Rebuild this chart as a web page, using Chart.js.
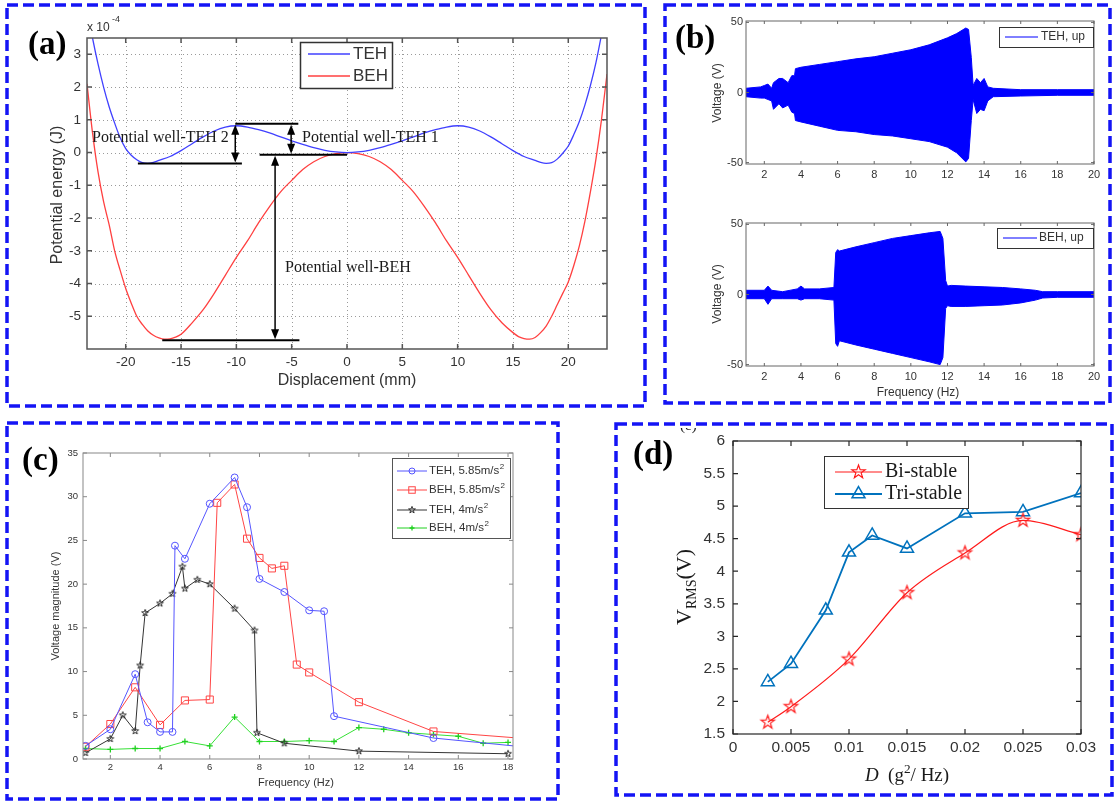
<!DOCTYPE html>
<html>
<head>
<meta charset="utf-8">
<script src="https://cdn.jsdelivr.net/npm/chart.js@4.4.1/dist/chart.umd.min.js"></script>
<style>
body { margin: 0; background: #fff; }
#page { position: relative; width: 1115px; height: 802px; overflow: hidden; background: #fff; }
canvas { position: absolute; left: 0; top: 0; }
.t { position: absolute; white-space: nowrap; line-height: 1; color: #333; font-family: "Liberation Sans", Arial, sans-serif; }
.serif { font-family: "Liberation Serif", "Times New Roman", serif; color: #1a1a1a; }
.lbl { font-family: "Liberation Serif", serif; font-weight: bold; font-size: 33px; color: #000; }
.rot { transform: translate(-50%, -50%) rotate(-90deg); }
.ctr { transform: translate(-50%, -50%); }
.vc { transform: translate(0, -50%); }
sup { font-size: 70%; }
</style>
</head>
<body>
<div id="page">
<canvas id="cA" width="1115" height="802"></canvas>
<canvas id="cB1" width="1115" height="802"></canvas>
<canvas id="cB2" width="1115" height="802"></canvas>
<canvas id="cC" width="1115" height="802"></canvas>
<canvas id="cD" width="1115" height="802"></canvas>

<svg width="1115" height="802" style="position:absolute;left:0;top:0">
  <g fill="none" stroke="#1414f5" stroke-width="3.5" stroke-dasharray="11 5">
    <rect x="7" y="5" width="638" height="401"/>
    <rect x="665" y="5" width="445" height="398"/>
    <rect x="7" y="423" width="551" height="376"/>
    <rect x="616" y="424" width="496" height="371"/>
  </g>
</svg>

<!-- panel labels -->
<div class="t lbl" style="left:28px;top:27px">(a)</div>
<div class="t lbl" style="left:675px;top:21px">(b)</div>
<div class="t lbl" style="left:22px;top:443px">(c)</div>
<div class="t lbl" style="left:633px;top:437px">(d)</div>

<!-- (a) texts -->
<div class="t" style="left:87px;top:21px;font-size:12px">x 10</div>
<div class="t" style="left:112px;top:15px;font-size:9px">-4</div>
<div class="t ctr" style="left:347px;top:380px;font-size:16px">Displacement (mm)</div>
<div class="t rot" style="left:57px;top:195px;font-size:16px">Potential energy (J)</div>
<div class="t serif vc" style="left:92px;top:137px;font-size:16px">Potential well-TEH 2</div>
<div class="t serif vc" style="left:302px;top:137px;font-size:16px">Potential well-TEH 1</div>
<div class="t serif vc" style="left:285px;top:267px;font-size:16px">Potential well-BEH</div>

<!-- (b) texts -->
<div class="t rot" style="left:717px;top:93px;font-size:12px">Voltage (V)</div>
<div class="t rot" style="left:717px;top:294px;font-size:12px">Voltage (V)</div>
<div class="t ctr" style="left:918px;top:392px;font-size:12px">Frequency (Hz)</div>

<!-- (c) texts -->
<div class="t rot" style="left:55px;top:606px;font-size:11px">Voltage magnitude (V)</div>
<div class="t ctr" style="left:296px;top:782px;font-size:11px">Frequency (Hz)</div>

<!-- (d) texts -->
<div style="position:absolute;left:680px;top:428px;width:16px;height:8px;overflow:hidden">
  <div class="t serif" style="left:0;top:-10px;font-size:15px">(e)</div>
</div>
<div class="t serif rot" style="left:684px;top:587px;font-size:22px">V<span style="font-size:14px;position:relative;top:5px">RMS</span>(V)</div>
<div class="t serif ctr" style="left:907px;top:773px;font-size:19px"><i>D</i>&nbsp; (g<sup>2</sup>/ Hz)</div>
</div>

<script>
// ---------- (a) potential energy (x 10^-4 J) vs displacement (mm)
const aTehX = [-23.5, -23, -22.5, -22, -21.5, -21, -20.5, -20, -19.5, -19, -18.5, -18, -17.5, -17, -16, -15, -14, -13, -12, -11, -10, -9, -8, -7, -6, -5, -4, -3, -2, -1, 0,
               1, 2, 3, 4, 5, 6, 7, 8, 9, 10, 11, 12, 13, 14, 15, 16, 17, 17.5, 18, 18.5, 19, 19.5, 20, 20.5, 21, 21.5, 22, 22.5, 23, 23.5];
const aTeh = [4.4, 3.5, 2.7, 2.0, 1.4, 0.9, 0.45, 0.12, -0.08, -0.22, -0.31, -0.33, -0.3, -0.24, -0.12, 0.06, 0.27, 0.48, 0.66, 0.78, 0.82, 0.78, 0.7, 0.6, 0.48, 0.36, 0.25, 0.15, 0.07, 0.02, 0,
              0.02, 0.07, 0.15, 0.25, 0.36, 0.48, 0.6, 0.7, 0.78, 0.82, 0.78, 0.66, 0.48, 0.27, 0.06, -0.12, -0.24, -0.3, -0.33, -0.31, -0.2, -0.02, 0.2, 0.55, 0.95, 1.45, 2.05, 2.75, 3.6, 4.5];
const aBehX = [-23.5, -23, -22.5, -22, -21.5, -21, -20.5, -20, -19.5, -19, -18.5, -18, -17.5, -17, -16.5, -16, -15.5, -15, -14, -13, -12, -11, -10, -9, -8, -7, -6, -5, -4, -3, -2, -1, 0,
               1, 2, 3, 4, 5, 6, 7, 8, 9, 10, 11, 12, 13, 14, 15, 15.5, 16, 16.5, 17, 17.5, 18, 18.5, 19, 19.5, 20, 20.5, 21, 21.5, 22, 22.5, 23, 23.5];
const aBeh = [2.1, 0.6, -0.6, -1.5, -2.2, -3.0, -3.6, -4.15, -4.6, -5.0, -5.25, -5.45, -5.58, -5.66, -5.7, -5.69, -5.64, -5.55, -5.2, -4.8, -4.3, -3.75, -3.2, -2.7, -2.15, -1.65, -1.2, -0.85, -0.52, -0.28, -0.12, -0.03, 0,
              -0.03, -0.12, -0.28, -0.52, -0.85, -1.2, -1.65, -2.15, -2.7, -3.2, -3.75, -4.3, -4.8, -5.2, -5.5, -5.62, -5.68, -5.7, -5.65, -5.5, -5.3, -5.0, -4.65, -4.3, -3.95, -3.45, -2.85, -2.1, -1.2, -0.2, 1.0, 2.4];
const aXTicks = [-20, -15, -10, -5, 0, 5, 10, 15, 20];
const aYTicks = [-5, -4, -3, -2, -1, 0, 1, 2, 3];
const aWellLines = [[-18.9, -0.33, -9.5, -0.33], [-10.1, 0.88, -4.4, 0.88], [-7.9, -0.07, 0, -0.07], [-16.7, -5.73, -4.3, -5.73]];
const aWellArrows = [[-10.1, 0.88, -0.33], [-5.05, 0.88, -0.07], [-6.5, -0.07, -5.73]];

// ---------- (b) voltage envelopes vs frequency (Hz)
const bTopX  = [1, 1.8, 2.0, 2.2, 2.4, 2.5, 2.8, 3.0, 3.3, 3.5, 3.65, 3.7, 4, 5, 6, 7, 8, 9, 10, 11, 12, 12.5, 13.0, 13.15, 13.3, 13.4, 13.6, 13.8, 14.0, 14.2, 14.5, 16, 18, 20];
const bTopHi = [3, 4, 5, 6, 3, 7, 10, 10, 7, 12, 12, 17, 18, 20, 22, 24, 25.5, 28, 30.5, 34, 39, 42, 46, 45, 25, 5, 10, 7, 10, 4, 3, 2, 2, 2];
const bTopLo = [-3, -4, -4, -5, -6, -12, -8, -11, -9, -14, -15, -20, -21, -24, -27, -28, -30, -31, -33, -35, -39, -43, -49.5, -47, -20, -5, -15, -12, -13, -6, -3, -2.5, -2, -2];
const bBotX  = [1, 2, 2.2, 2.4, 3, 3.8, 4, 4.2, 5, 5.8, 5.9, 6.0, 6.1, 7, 8, 9, 10, 11, 11.6, 11.75, 11.9, 12.0, 12.2, 13, 14, 15, 16, 16.8, 17.2, 18, 20];
const bBotHi = [3, 3, 6, 3, 2, 4, 6, 4, 4, 5, 30, 32, 31, 34, 37, 40, 42, 44, 45, 40, 10, 6, 6.5, 6, 5.5, 5, 4, 3, 2, 2, 2];
const bBotLo = [-3, -3, -7, -3, -3, -3, -4, -3, -3, -4, -35, -37, -33, -36, -39, -42, -45, -48, -50, -45, -10, -8, -8.5, -8.5, -8, -7.5, -6, -4, -2.5, -2, -2];
const bXTicks = [2, 4, 6, 8, 10, 12, 14, 16, 18, 20];
const bYTicks = [-50, 0, 50];

// ---------- (c) voltage magnitude vs frequency
const cTeh58X = [1, 2, 3, 3.5, 4, 4.5, 4.6, 5, 6, 7, 7.5, 8, 9, 10, 10.6, 11, 15, 20];
const cTeh58  = [1.5, 3.4, 9.7, 4.2, 3.1, 3.1, 24.4, 22.9, 29.2, 32.2, 28.8, 20.6, 19.1, 17.0, 16.9, 4.9, 2.4, 1.0];
const cBeh58X = [1, 2, 3, 4, 5, 6, 6.3, 7, 7.5, 8, 8.5, 9, 9.5, 10, 12, 15, 20];
const cBeh58  = [1.4, 4.0, 8.2, 3.9, 6.7, 6.8, 29.3, 31.4, 25.2, 23.0, 21.8, 22.1, 10.8, 9.9, 6.5, 3.15, 2.05];
const cTeh4X  = [1, 2, 2.5, 3, 3.2, 3.4, 4, 4.5, 4.9, 5, 5.5, 6, 7, 7.8, 7.9, 9, 12, 18];
const cTeh4   = [0.7, 2.3, 5.0, 3.2, 10.7, 16.7, 17.8, 18.9, 22.0, 19.5, 20.5, 20.0, 17.2, 14.7, 3.0, 1.8, 0.9, 0.6];
const cBeh4X  = [1, 2, 3, 4, 5, 6, 7, 8, 9, 10, 11, 12, 13, 14, 15, 16, 17, 18];
const cBeh4   = [1.2, 1.1, 1.2, 1.2, 2.0, 1.5, 4.8, 2.0, 2.0, 2.1, 2.0, 3.6, 3.4, 3.0, 2.8, 2.6, 1.8, 1.9];
const cXTicks = [2, 4, 6, 8, 10, 12, 14, 16, 18];
const cYTicks = [0, 5, 10, 15, 20, 25, 30, 35];

// ---------- (d) V_RMS vs D
const dBiX  = [0.003, 0.005, 0.01, 0.015, 0.02, 0.025, 0.03];
const dBi   = [1.68, 1.92, 2.65, 3.67, 4.28, 4.78, 4.56];
const dTriX = [0.003, 0.005, 0.008, 0.01, 0.012, 0.015, 0.02, 0.025, 0.03];
const dTri  = [2.30, 2.58, 3.40, 4.29, 4.55, 4.35, 4.89, 4.91, 5.20];
const dXTicks = [0, 0.005, 0.01, 0.015, 0.02, 0.025, 0.03];
const dYTicks = [1.5, 2, 2.5, 3, 3.5, 4, 4.5, 5, 5.5, 6];

const W = 1115, H = 802;
const sans = '"Liberation Sans", Arial, sans-serif';
const serif = '"Liberation Serif", "Times New Roman", serif';

function pts(xs, ys) { return xs.map((x, i) => ({x: x, y: ys[i]})); }

function starPath(ctx, x, y, r) {
  ctx.beginPath();
  for (let i = 0; i < 10; i++) {
    const rr = i % 2 ? r * 0.4 : r;
    const a = -Math.PI / 2 + i * Math.PI / 5;
    const px = x + rr * Math.cos(a), py = y + rr * Math.sin(a);
    if (i === 0) ctx.moveTo(px, py); else ctx.lineTo(px, py);
  }
  ctx.closePath();
}

function starImage(r, color, lw) {
  const c = document.createElement('canvas');
  const s = Math.ceil(2 * r + 2 * lw + 2);
  c.width = s; c.height = s;
  const g = c.getContext('2d');
  g.strokeStyle = color; g.lineWidth = lw; g.lineJoin = 'miter';
  starPath(g, s / 2, s / 2, r);
  g.stroke();
  return c;
}

function drawMark(ctx, m, x, y, r, color, lw) {
  ctx.save();
  ctx.strokeStyle = color; ctx.lineWidth = lw || 1;
  ctx.beginPath();
  if (m === 'circle') { ctx.arc(x, y, r, 0, Math.PI * 2); ctx.stroke(); }
  else if (m === 'rect') { ctx.strokeRect(x - r * 0.72, y - r * 0.72, r * 1.44, r * 1.44); }
  else if (m === 'cross') { ctx.moveTo(x - r, y); ctx.lineTo(x + r, y); ctx.moveTo(x, y - r); ctx.lineTo(x, y + r); ctx.stroke(); }
  else if (m === 'triangle') {
    ctx.moveTo(x, y - r); ctx.lineTo(x + r * 0.866, y + r * 0.5); ctx.lineTo(x - r * 0.866, y + r * 0.5); ctx.closePath(); ctx.stroke();
  } else if (m === 'star') { starPath(ctx, x, y, r); ctx.stroke(); }
  ctx.restore();
}

// MATLAB style box: outline, inward ticks, optional dotted grid
const boxPlugin = {
  id: 'mbox',
  beforeDatasetsDraw(chart, args, o) {
    if (!o.grid) return;
    const {ctx, chartArea: a, scales: {x, y}} = chart;
    ctx.save();
    ctx.strokeStyle = o.gridColor; ctx.lineWidth = 1; ctx.setLineDash([1, 3]);
    x.ticks.forEach(t => {
      const p = Math.round(x.getPixelForValue(t.value)) + 0.5;
      ctx.beginPath(); ctx.moveTo(p, a.top); ctx.lineTo(p, a.bottom); ctx.stroke();
    });
    y.ticks.forEach(t => {
      const p = Math.round(y.getPixelForValue(t.value)) + 0.5;
      ctx.beginPath(); ctx.moveTo(a.left, p); ctx.lineTo(a.right, p); ctx.stroke();
    });
    ctx.restore();
  },
  afterDatasetsDraw(chart, args, o) {
    const {ctx, chartArea: a, scales: {x, y}} = chart;
    const tl = o.tick;
    ctx.save();
    ctx.strokeStyle = o.color; ctx.lineWidth = o.width;
    ctx.strokeRect(a.left, a.top, a.right - a.left, a.bottom - a.top);
    ctx.beginPath();
    x.ticks.forEach(t => {
      const p = x.getPixelForValue(t.value);
      ctx.moveTo(p, a.bottom); ctx.lineTo(p, a.bottom - tl);
      ctx.moveTo(p, a.top); ctx.lineTo(p, a.top + tl);
    });
    y.ticks.forEach(t => {
      const p = y.getPixelForValue(t.value);
      ctx.moveTo(a.left, p); ctx.lineTo(a.left + tl, p);
      ctx.moveTo(a.right, p); ctx.lineTo(a.right - tl, p);
    });
    ctx.stroke();
    ctx.restore();
  }
};

// legend drawn inside the axes
const legendPlugin = {
  id: 'mleg',
  afterDraw(chart, args, o) {
    if (!o.items) return;
    const ctx = chart.ctx;
    const b = o.box;
    ctx.save();
    ctx.fillStyle = '#fff';
    ctx.fillRect(b[0], b[1], b[2] - b[0], b[3] - b[1]);
    ctx.strokeStyle = o.edge; ctx.lineWidth = o.edgeWidth || 1;
    ctx.strokeRect(b[0] + 0.5, b[1] + 0.5, b[2] - b[0], b[3] - b[1]);
    o.items.forEach(it => {
      ctx.strokeStyle = it.color; ctx.lineWidth = it.lw || 1;
      ctx.beginPath(); ctx.moveTo(o.lx1, it.y); ctx.lineTo(o.lx2, it.y); ctx.stroke();
      if (it.mark) drawMark(ctx, it.mark, (o.lx1 + o.lx2) / 2, it.y, it.r, it.color, it.mlw);
      ctx.fillStyle = o.textColor; ctx.font = o.font;
      ctx.textBaseline = 'middle'; ctx.textAlign = 'left';
      ctx.fillText(it.text, o.tx, it.y);
      if (it.sup) {
        const w = ctx.measureText(it.text).width;
        ctx.font = o.supFont;
        ctx.fillText(it.sup, o.tx + w + 0.5, it.y - o.supRise);
      }
    });
    ctx.restore();
  }
};

// potential-well marker lines and double arrows for (a)
const notePlugin = {
  id: 'mnote',
  afterDatasetsDraw(chart, args, o) {
    if (!o.lines) return;
    const {ctx, scales: {x, y}} = chart;
    ctx.save();
    ctx.strokeStyle = '#000'; ctx.fillStyle = '#000';
    ctx.lineWidth = 2;
    o.lines.forEach(l => {
      ctx.beginPath();
      ctx.moveTo(x.getPixelForValue(l[0]), y.getPixelForValue(l[1]));
      ctx.lineTo(x.getPixelForValue(l[2]), y.getPixelForValue(l[3]));
      ctx.stroke();
    });
    ctx.lineWidth = 1.5;
    o.arrows.forEach(r => {
      const px = x.getPixelForValue(r[0]);
      const p1 = y.getPixelForValue(r[1]) + 1, p2 = y.getPixelForValue(r[2]) - 1;
      ctx.beginPath(); ctx.moveTo(px, p1 + 8); ctx.lineTo(px, p2 - 8); ctx.stroke();
      ctx.beginPath(); ctx.moveTo(px, p1); ctx.lineTo(px - 4, p1 + 10); ctx.lineTo(px + 4, p1 + 10); ctx.closePath(); ctx.fill();
      ctx.beginPath(); ctx.moveTo(px, p2); ctx.lineTo(px - 4, p2 - 10); ctx.lineTo(px + 4, p2 - 10); ctx.closePath(); ctx.fill();
    });
    ctx.restore();
  }
};

function axis(area, side, s) {
  const o = {
    type: 'linear', min: s.min, max: s.max,
    grid: {display: false, drawTicks: false},
    border: {display: false},
    ticks: {
      font: {family: s.family || sans, size: s.size}, color: s.color || '#333',
      padding: s.pad, maxRotation: 0, autoSkip: false,
      callback: v => String(v)
    },
    afterBuildTicks: sc => { sc.ticks = s.ticks.map(v => ({value: v})); }
  };
  if (side === 'x') {
    o.afterFit = sc => { sc.height = H - area[3]; sc.paddingLeft = 0; sc.paddingRight = 0; };
  } else {
    o.afterFit = sc => { sc.width = area[0]; sc.paddingTop = 0; sc.paddingBottom = 0; };
  }
  return o;
}

function plot(id, area, xs, ys, datasets, box, legend, note) {
  return new Chart(document.getElementById(id), {
    type: 'line',
    data: {datasets: datasets},
    options: {
      responsive: false,
      animation: false,
      events: [],
      layout: {padding: {left: 0, top: area[1], right: W - area[2], bottom: 0}},
      plugins: {
        legend: {display: false},
        tooltip: {enabled: false},
        mbox: box,
        mleg: legend || {},
        mnote: note || {}
      },
      scales: {x: axis(area, 'x', xs), y: axis(area, 'y', ys)}
    },
    plugins: [boxPlugin, legendPlugin, notePlugin]
  });
}

// ---------- (a)
plot('cA', [87, 38, 607, 349],
  {min: -23.5, max: 23.5, ticks: aXTicks, size: 13.5, pad: 5},
  {min: -6, max: 3.5, ticks: aYTicks, size: 13.5, pad: 6},
  [
    {data: pts(aTehX, aTeh), borderColor: '#4040ff', borderWidth: 1.3, pointRadius: 0, tension: 0.4, cubicInterpolationMode: 'monotone'},
    {data: pts(aBehX, aBeh), borderColor: '#ff4040', borderWidth: 1.3, pointRadius: 0, tension: 0.4, cubicInterpolationMode: 'monotone'}
  ],
  {grid: true, gridColor: '#9a9a9a', color: '#555', width: 1.5, tick: 5},
  {box: [300, 42, 392, 88], edge: '#333', edgeWidth: 1.5, lx1: 308, lx2: 350, tx: 353,
   font: '17px ' + sans, textColor: '#333',
   items: [{text: 'TEH', color: '#4040ff', y: 54, lw: 1.3}, {text: 'BEH', color: '#ff4040', y: 76, lw: 1.3}]},
  {lines: aWellLines, arrows: aWellArrows}
);

// ---------- (b)
function envelope(xs, hi, lo) {
  return [
    {data: pts(xs, hi), borderColor: '#0000ff', borderWidth: 1, pointRadius: 0, fill: false},
    {data: pts(xs, lo), borderColor: '#0000ff', backgroundColor: '#0000ff', borderWidth: 1, pointRadius: 0, fill: '-1'}
  ];
}
const bBox = {grid: false, color: '#666', width: 1, tick: 3};
plot('cB1', [746, 21, 1094, 164],
  {min: 1, max: 20, ticks: bXTicks, size: 11, pad: 4},
  {min: -51, max: 51, ticks: bYTicks, size: 11, pad: 3},
  envelope(bTopX, bTopHi, bTopLo), bBox,
  {box: [999, 27, 1093, 47], edge: '#333', lx1: 1005, lx2: 1038, tx: 1041,
   font: '12px ' + sans, textColor: '#333',
   items: [{text: 'TEH, up', color: '#0000ff', y: 37}]}
);
plot('cB2', [746, 223, 1094, 366],
  {min: 1, max: 20, ticks: bXTicks, size: 11, pad: 4},
  {min: -51, max: 51, ticks: bYTicks, size: 11, pad: 3},
  envelope(bBotX, bBotHi, bBotLo), bBox,
  {box: [997, 228, 1093, 248], edge: '#333', lx1: 1003, lx2: 1037, tx: 1039,
   font: '12px ' + sans, textColor: '#333',
   items: [{text: 'BEH, up', color: '#0000ff', y: 238}]}
);

// ---------- (c)
const cStar = starImage(3.6, '#303030', 1);
plot('cC', [83, 453, 513, 759],
  {min: 0.9, max: 18.2, ticks: cXTicks, size: 9.5, pad: 3},
  {min: 0, max: 35, ticks: cYTicks, size: 9.5, pad: 5},
  [
    {data: pts(cTeh58X, cTeh58), borderColor: '#5555ff', borderWidth: 1, pointStyle: 'circle', pointRadius: 3.5, pointBorderColor: '#5555ff', pointBackgroundColor: 'rgba(0,0,0,0)', pointBorderWidth: 1},
    {data: pts(cBeh58X, cBeh58), borderColor: '#ff4545', borderWidth: 1, pointStyle: 'rect', pointRadius: 5, pointBorderColor: '#ff4545', pointBackgroundColor: 'rgba(0,0,0,0)', pointBorderWidth: 1},
    {data: pts(cTeh4X, cTeh4), borderColor: '#333333', borderWidth: 1, pointStyle: cStar, pointRadius: 4},
    {data: pts(cBeh4X, cBeh4), borderColor: '#35e035', borderWidth: 1, pointStyle: 'cross', pointRadius: 3, pointBorderColor: '#20d020', pointBorderWidth: 1.3}
  ],
  {grid: false, color: '#888', width: 1, tick: 4},
  {box: [392, 458, 510, 538], edge: '#555', lx1: 397, lx2: 427, tx: 429,
   font: '11.5px ' + sans, supFont: '8px ' + sans, supRise: 4, textColor: '#333',
   items: [
     {text: 'TEH, 5.85m/s', sup: '2', color: '#5555ff', y: 471, mark: 'circle', r: 3},
     {text: 'BEH, 5.85m/s', sup: '2', color: '#ff4545', y: 490, mark: 'rect', r: 4.5},
     {text: 'TEH, 4m/s', sup: '2', color: '#333333', y: 510, mark: 'star', r: 3.6},
     {text: 'BEH, 4m/s', sup: '2', color: '#20d020', y: 528, mark: 'cross', r: 2.5, mlw: 1.3}
   ]}
);

// ---------- (d)
const dStar = starImage(7, '#ff1a1a', 1.2);
plot('cD', [733, 441, 1081, 734],
  {min: 0, max: 0.03, ticks: dXTicks, size: 15.5, pad: 4},
  {min: 1.5, max: 6, ticks: dYTicks, size: 15.5, pad: 8},
  [
    {data: pts(dBiX, dBi), borderColor: '#ff1a1a', borderWidth: 1.2, pointStyle: dStar, pointRadius: 7, tension: 0.25, cubicInterpolationMode: 'monotone'},
    {data: pts(dTriX, dTri), borderColor: '#0072bd', borderWidth: 1.8, pointStyle: 'triangle', pointRadius: 7.5, pointBorderColor: '#0072bd', pointBackgroundColor: 'rgba(0,0,0,0)', pointBorderWidth: 1.5}
  ],
  {grid: false, color: '#262626', width: 1.2, tick: 5},
  {box: [824, 456, 968, 508], edge: '#333', lx1: 835, lx2: 882, tx: 885,
   font: '20px ' + serif, textColor: '#1a1a1a',
   items: [
     {text: 'Bi-stable', color: '#ff1a1a', y: 472, mark: 'star', r: 7, lw: 1.2, mlw: 1.2},
     {text: 'Tri-stable', color: '#0072bd', y: 494, mark: 'triangle', r: 7.5, lw: 1.8, mlw: 1.5}
   ]}
);
</script>
</body>
</html>
